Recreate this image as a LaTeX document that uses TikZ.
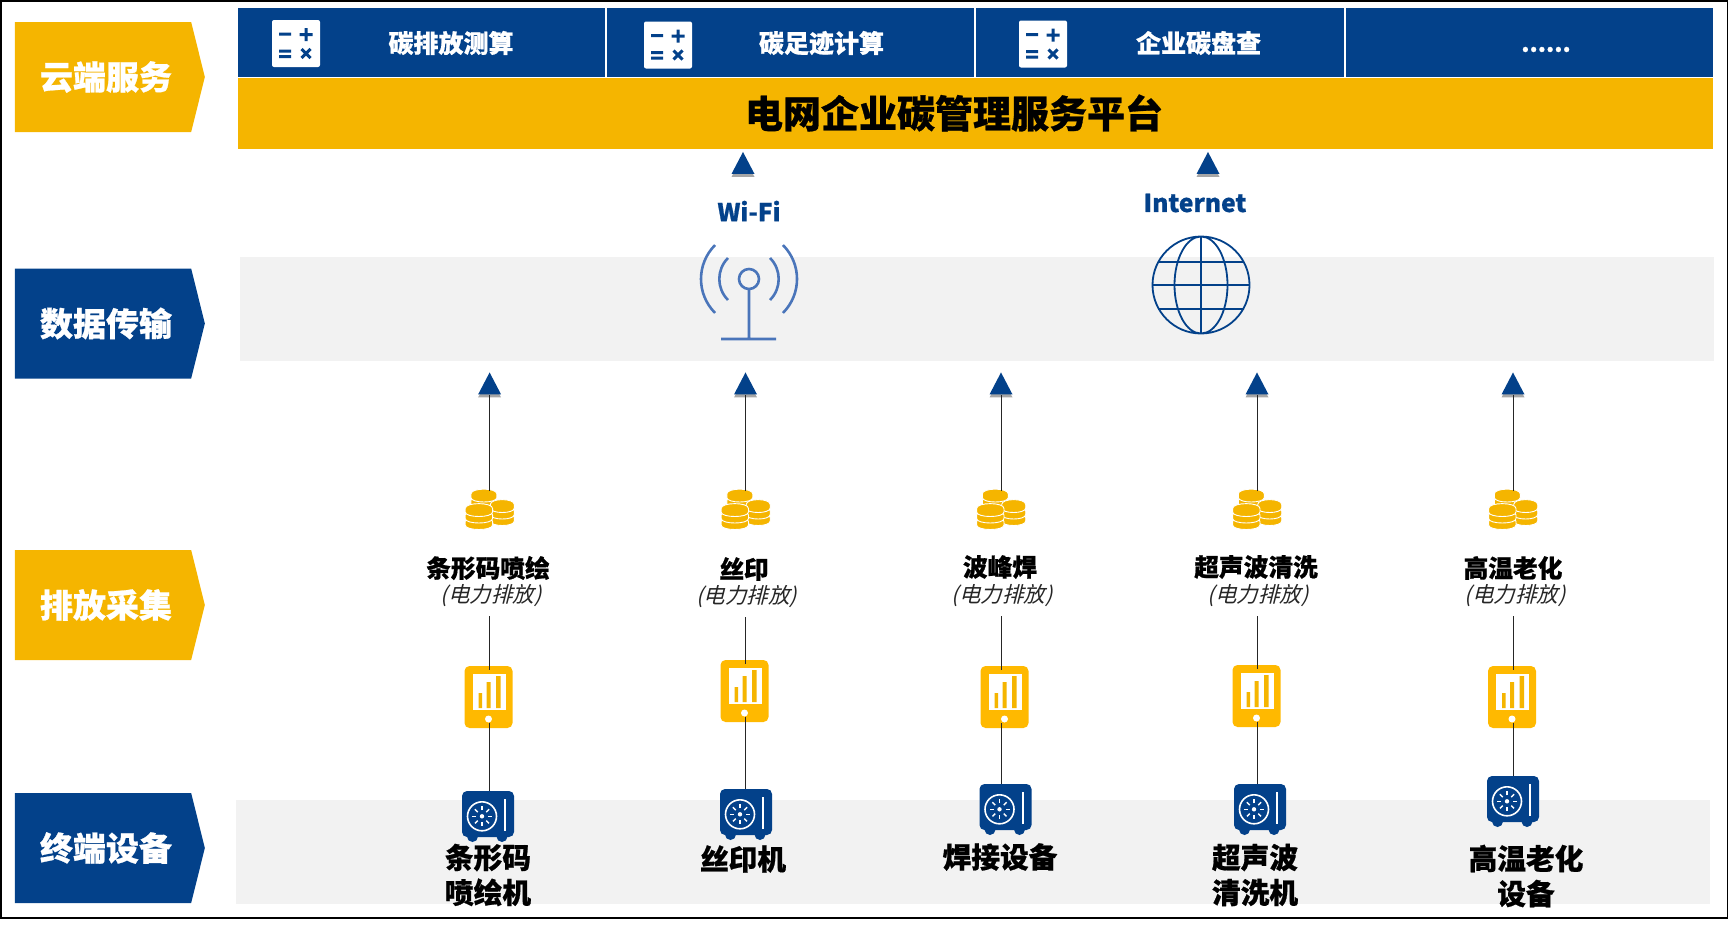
\documentclass[tikz,border=0pt]{standalone}
\usepackage{fontspec}
\setmainfont{Noto Sans CJK SC}[BoldFeatures={FakeBold=0.7}]
\newfontfamily\slantF[FakeSlant=0.25]{Noto Sans CJK SC}
\usetikzlibrary{shapes,shadows}
\definecolor{navy}{HTML}{03418A}
\definecolor{gold}{HTML}{F5B500}
\definecolor{amber}{HTML}{FFB900}
\definecolor{band}{HTML}{F2F2F2}
\definecolor{wifi}{HTML}{4A75BA}
\newcommand{\coinStack}[4]{%
  \foreach \k in {1,...,#4}{
    \pgfmathsetmacro{\yy}{#2-(\k-1)*6.5}
    \fill[gold,draw=white,line width=0.9] (#1-#3,\yy) .. controls (#1-#3,\yy+6) and (#1+#3,\yy+6) .. (#1+#3,\yy)
      -- (#1+#3,\yy-3.5) .. controls (#1+#3,\yy-10) and (#1-#3,\yy-10) .. (#1-#3,\yy-3.5) -- cycle;
  }}

\begin{document}
\begin{tikzpicture}
  [x=1pt,y=-1pt,
   tagN/.style={signal,signal to=east,signal pointer angle=152,fill=#1,text=white,font=\fontsize{33}{33}\selectfont\bfseries,minimum width=190pt,minimum height=110pt,inner sep=0pt,execute at begin node=\hspace*{6pt}},
   cellN/.style={rectangle,fill=navy,minimum height=69pt,inner sep=0pt},
   serviceN/.style={text=white,font=\fontsize{25}{25}\selectfont\bfseries},
   arrowN/.style={isosceles triangle,shape border rotate=90,isosceles triangle stretches,fill=navy,minimum width=23pt,minimum height=22pt,inner sep=0pt,drop shadow={shadow xshift=0pt,shadow yshift=-3pt,opacity=0.35,fill=black}},
   linkN/.style={text=navy,font=\fontsize{24.6}{25}\selectfont\bfseries},
   itemN/.style={font=\fontsize{24.7}{25}\selectfont\bfseries},
   subN/.style={font=\fontsize{21.5}{21.5}\selectfont\slantF,inner xsep=1pt,inner ysep=9pt,text=black!85},
   deviceN/.style={align=center,font=\fontsize{28.7}{35}\selectfont\bfseries,inner sep=0pt},
   wireN/.style={draw=black!85,line width=1pt},
   calcG/.pic={
     \fill[white,rounded corners=2pt] (-24,-23.5) rectangle (24,23.5);
     \draw[navy,line width=3pt] (-17,-9.5) -- (-5,-9.5) (3.5,-9) -- (16.5,-9) (10,-15.5) -- (10,-2.5)
       (-17,7.5) -- (-5,7.5) (-17,13) -- (-5,13) (5.5,5.5) -- (14.5,14.5) (5.5,14.5) -- (14.5,5.5);
   },
   coinG/.pic={
     \coordinate (-top) at (0,-20);
     \coinStack{-5.7}{-7}{13}{2}
     \coinStack{12.7}{10}{12}{3}
     \coinStack{-10.7}{14}{13.7}{3}
   },
   tabletG/.pic={
     \coordinate (-top) at (0,-27);
     \coordinate (-bottom) at (0,26);
     \fill[amber,rounded corners=5pt] (-24,-31) rectangle (24,31);
     \fill[white] (-16,-23) rectangle (17,13);
     \fill[gold] (-10,-4) rectangle (-6.5,11) (-2,-15) rectangle (2,11) (7.5,-21) rectangle (12,11);
     \fill[white] (0,22) circle (3.5);
   },
   safeG/.pic={
     \coordinate (-top) at (0,-24);
     \fill[navy] (-15.5,21.5) circle (5.5) (14,21.5) circle (5.5);
     \fill[navy,rounded corners=5pt] (-26,-24) rectangle (26,22);
     \draw[white,line width=1.6pt] (-6,1.3) circle (14.5);
     \fill[white] (-6,1.3) circle (2.2);
     \foreach \ang in {0,45,...,315}{
       \draw[white,line width=1.4pt] ([shift={(-6,1.3)}]\ang:6) -- ([shift={(-6,1.3)}]\ang:10);
     }
     \draw[white,line width=2pt] (17,-16) -- (17,16);
   }]

  \useasboundingbox (0,0) rectangle (1729,929);
  \draw[black,line width=1.2pt] (1,1) rectangle (1727.8,918);

  % bands
  \fill[band] (240,257) rectangle (1714,361);
  \fill[band] (236,800) rectangle (1710,904);

  % tags
  \node[tagN=gold] (tagA) at (103,77) {云端服务};
  \node[tagN=navy] (tagB) at (103,323.5) {数据传输};
  \node[tagN=gold] (tagC) at (103,605) {排放采集};
  \node[tagN=navy] (tagD) at (103,848) {终端设备};

  % services
  \node[cellN,minimum width=367pt] (s1) at (421.5,42.5) {};
  \node[cellN,minimum width=367pt] (s2) at (790,42.5) {};
  \node[cellN,minimum width=368pt] (s3) at (1160,42.5) {};
  \node[cellN,minimum width=367pt] (s4) at (1529.5,42.5) {};
  \node[rectangle,fill=gold,minimum width=1475pt,minimum height=71pt,inner sep=0pt] (platform) at (975.5,113.5) {};
  \node[font=\fontsize{38}{38}\selectfont\bfseries] (title) at (954,113) {电网企业碳管理服务平台};
  \pic at (296,43.5) {calcG};
  \pic at (668,45) {calcG};
  \pic at (1043,44) {calcG};
  \node[serviceN] (st1) at (451,43) {碳排放测算};
  \node[serviceN] (st2) at (821.5,43) {碳足迹计算};
  \node[serviceN] (st3) at (1198.6,43) {企业碳盘查};
  \node[serviceN,font=\fontsize{23.5}{25}\selectfont\bfseries] (st4) at (1546,49.5) {......};

  % transmission
  \node[arrowN] (upW) at (743,167) {};
  \node[arrowN] (upI) at (1208,167) {};
  \node[linkN] (wifi) at (749,211) {Wi-Fi};
  \node[linkN] (inet) at (1195,203) {Internet};
  \draw[wifi,line width=2.6pt] (749,279) circle (10)
    (749,289) -- (749,339) (721,339) -- (776,339)
    (749,279) +(225:48) arc[start angle=135,end angle=225,radius=48pt]
    (749,279) +(225:29.7) arc[start angle=135,end angle=225,radius=29.7pt]
    (749,279) +(-45:48) arc[start angle=45,end angle=-45,radius=48pt]
    (749,279) +(-45:29.7) arc[start angle=45,end angle=-45,radius=29.7pt];
  \draw[navy,line width=1.8pt] (1201,285) circle (48.5)
    (1201,285) ellipse [x radius=26.5,y radius=48.5]
    (1201,236) -- (1201,334) (1152,285) -- (1250,285)
    (1158,262) -- (1244,262) (1158,309) -- (1244,309);

  % column 1
  \node[arrowN] (a1) at (489.6,387.5) {};
  \pic (c1) at (489.6,511) {coinG};
  \node[itemN] (l1) at (488,568) {条形码喷绘};
  \node[subN] (n1) at (491,596) {(电力排放)};
  \pic (t1) at (488.5,697) {tabletG};
  \pic (e1) at (488,815) {safeG};
  \node[deviceN] (d1) at (488,875) {条形码\\喷绘机};
  \draw[wireN] (a1 |- c1-top) -- (a1);
  \draw[wireN] (a1 |- n1.south) -- (a1 |- t1-top);
  \draw[wireN] (a1 |- t1-bottom) -- (a1 |- e1-top);

  % column 2
  \node[arrowN] (a2) at (745.5,387.5) {};
  \pic (c2) at (745.5,511) {coinG};
  \node[itemN] (l2) at (744,569) {丝印};
  \node[subN] (n2) at (746.5,597) {(电力排放)};
  \pic (t2) at (744.5,691) {tabletG};
  \pic (e2) at (746,813) {safeG};
  \node[deviceN] (d2) at (743,859) {丝印机};
  \draw[wireN] (a2 |- c2-top) -- (a2);
  \draw[wireN] (a2 |- n2.south) -- (a2 |- t2-top);
  \draw[wireN] (a2 |- t2-bottom) -- (a2 |- e2-top);

  % column 3
  \node[arrowN] (a3) at (1001,387.5) {};
  \pic (c3) at (1001,511) {coinG};
  \node[itemN] (l3) at (1000,567) {波峰焊};
  \node[subN] (n3) at (1002,596) {(电力排放)};
  \pic (t3) at (1004.5,697) {tabletG};
  \pic (e3) at (1005.5,808) {safeG};
  \node[deviceN] (d3) at (1000,857) {焊接设备};
  \draw[wireN] (a3 |- c3-top) -- (a3);
  \draw[wireN] (a3 |- n3.south) -- (a3 |- t3-top);
  \draw[wireN] (a3 |- t3-bottom) -- (a3 |- e3-top);

  % column 4
  \node[arrowN] (a4) at (1257,387.5) {};
  \pic (c4) at (1257,511) {coinG};
  \node[itemN] (l4) at (1256,567) {超声波清洗};
  \node[subN] (n4) at (1258,596) {(电力排放)};
  \pic (t4) at (1256.5,696) {tabletG};
  \pic (e4) at (1260,808) {safeG};
  \node[deviceN] (d4) at (1255,875) {超声波\\清洗机};
  \draw[wireN] (a4 |- c4-top) -- (a4);
  \draw[wireN] (a4 |- n4.south) -- (a4 |- t4-top);
  \draw[wireN] (a4 |- t4-bottom) -- (a4 |- e4-top);

  % column 5
  \node[arrowN] (a5) at (1513,387.5) {};
  \pic (c5) at (1513,511) {coinG};
  \node[itemN] (l5) at (1513,568) {高温老化};
  \node[subN] (n5) at (1515,596) {(电力排放)};
  \pic (t5) at (1512,697) {tabletG};
  \pic (e5) at (1513,800) {safeG};
  \node[deviceN] (d5) at (1526,876) {高温老化\\设备};
  \draw[wireN] (a5 |- c5-top) -- (a5);
  \draw[wireN] (a5 |- n5.south) -- (a5 |- t5-top);
  \draw[wireN] (a5 |- t5-bottom) -- (a5 |- e5-top);
\end{tikzpicture}
\end{document}
